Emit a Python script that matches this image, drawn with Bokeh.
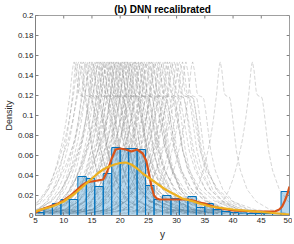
import numpy as np
from bokeh.plotting import figure
from bokeh.models import Range1d, FixedTicker
from bokeh.embed import file_html
from bokeh.resources import INLINE

# ---------------- data ----------------
bin_edges = [5 + 1.5 * i for i in range(31)]
bin_heights = [0.003, 0.008, 0.012, 0.016, 0.016, 0.039, 0.037, 0.029, 0.042, 0.068,
               0.067, 0.067, 0.066, 0.030, 0.016, 0.020, 0.017, 0.016, 0.019, 0.008,
               0.012, 0.006, 0.004, 0.003, 0.0025, 0.002, 0.002, 0.002, 0.002, 0.024]

red_x = [5, 6, 7, 8, 9, 10, 11, 12, 13, 14, 15, 16, 17, 17.7, 18.5, 19.2, 20, 21, 22, 23, 24,
         24.6, 25, 25.5, 26, 26.5, 27, 28, 29, 30, 31, 32, 33, 34, 35, 36, 37, 38, 40, 42, 44,
         46, 47.5, 48.2, 48.7, 49.2, 49.6, 50]
red_y = [0.003, 0.006, 0.008, 0.010, 0.012, 0.015, 0.019, 0.024, 0.029, 0.033, 0.034, 0.035,
         0.036, 0.044, 0.057, 0.066, 0.067, 0.066, 0.064, 0.066, 0.062, 0.055, 0.045, 0.030,
         0.020, 0.017, 0.016, 0.016, 0.016, 0.016, 0.016, 0.016, 0.015, 0.013, 0.012, 0.010,
         0.008, 0.007, 0.005, 0.0045, 0.0042, 0.004, 0.0042, 0.006, 0.009, 0.015, 0.021, 0.029]

yel_x = [5, 6, 7, 8, 9, 10, 11, 12, 13, 14, 15, 16, 17, 18, 19, 20, 21, 22, 23, 24, 25, 26,
         27, 28, 29, 30, 31, 32, 33, 34, 35, 36, 38, 40, 42, 44, 46, 48, 50]
yel_y = [0.004, 0.006, 0.0075, 0.009, 0.0115, 0.014, 0.018, 0.022, 0.027, 0.032, 0.037, 0.042,
         0.046, 0.049, 0.051, 0.0525, 0.053, 0.051, 0.047, 0.042, 0.038, 0.034, 0.030, 0.026,
         0.023, 0.020, 0.017, 0.0155, 0.014, 0.012, 0.0105, 0.009, 0.0075, 0.006, 0.005,
         0.004, 0.003, 0.002, 0.001]

# peak locations and widths of the individual gray predictive densities
curve_peaks = [11.8, 12.2, 12.6, 13.0, 13.4, 13.8, 14.1, 14.5, 14.8, 15.1, 15.4, 15.7, 16.0,
               16.2, 16.5, 16.8, 17.0, 17.2, 17.5, 17.7, 18.0, 18.2, 18.4, 18.7, 18.9, 19.1,
               19.3, 19.6, 19.8, 20.0, 20.2, 20.4, 20.7, 20.9, 21.1, 21.3, 21.6, 21.8, 22.0,
               22.3, 22.5, 22.7, 23.0, 23.2, 23.5, 23.7, 24.0, 24.3, 24.6, 24.9, 25.2, 25.5,
               25.8, 26.1, 26.4, 26.8, 27.1, 27.5, 27.9, 28.3, 28.7, 29.1, 29.5, 30.0, 30.5,
               31.0, 31.6, 32.8, 37.7, 43.4]
curve_widths = [0.9, 0.8, 1.1, 0.9, 1.2, 0.8, 1.0, 0.9, 1.3, 0.8, 1.0, 1.2, 0.9,
                1.3, 0.9, 1.1, 0.8, 1.2, 1.0, 1.3, 0.9, 1.1, 0.9, 1.2, 0.8, 1.0,
                1.2, 0.9, 1.4, 1.0, 0.8, 1.2, 0.9, 1.1, 1.3, 0.9, 1.0, 0.8, 1.3,
                1.0, 1.2, 0.9, 1.4, 0.9, 1.0, 1.2, 0.8, 1.1, 1.0, 1.3, 0.9, 1.2,
                0.8, 1.0, 1.3, 0.9, 1.1, 1.0, 1.2, 0.9, 1.2, 1.0, 1.3, 1.0, 1.1,
                0.9, 0.9, 0.9, 0.8, 0.8]
# shape of one gray density, relative to its peak
shape_dx = [-12, -8.5, -6.5, -5.2, -4.3, -3.4, -2.2, -1.5, -0.8, -0.3, 0, 0.4, 0.9, 1.2, 2.2,
            2.6, 3.6, 4.5, 6, 8, 11, 15]
shape_dy = [0.002, 0.006, 0.014, 0.025, 0.036, 0.05, 0.075, 0.095, 0.12, 0.145, 0.155, 0.145,
            0.123, 0.12, 0.118, 0.105, 0.065, 0.045, 0.026, 0.014, 0.006, 0.002]

x_ticks = [5, 10, 15, 20, 25, 30, 35, 40, 45, 50]
y_ticks = [0, 0.02, 0.04, 0.06, 0.08, 0.1, 0.12, 0.14, 0.16, 0.18, 0.2]
y_tick_labels = ["0", "0.02", "0.04", "0.06", "0.08", "0.1", "0.12", "0.14", "0.16", "0.18", "0.2"]

# ---------------- figure ----------------
FONT = "Liberation Sans"
AX = "#808080"
TXT = "#262626"

p = figure(width=292, height=242, output_backend="svg", toolbar_location=None,
           x_range=Range1d(5, 50), y_range=Range1d(0, 0.2),
           min_border_left=0, min_border_right=3, min_border_top=2, min_border_bottom=2)
p.title.text = "(b) DNN recalibrated"
p.title.align = "center"
p.title.text_font = FONT
p.title.text_font_size = "10px"
p.title.text_font_style = "bold"
p.title.text_color = "#000000"
p.title.standoff = 2
p.title.offset = 0
p.xgrid.visible = False
p.ygrid.visible = False
p.outline_line_color = "#a0a0a0"
p.background_fill_color = "white"

# gray curves
xs, ys = [], []
for c, w in zip(curve_peaks, curve_widths):
    dx = np.array(shape_dx) * w
    gx = np.linspace(c + dx[0], c + dx[-1], 160)
    xs.append(gx)
    ys.append(np.interp(gx, dx + c, shape_dy))
p.multi_line(xs, ys, line_color="#8a8a8a", line_width=0.5, line_alpha=0.7, line_dash="4 2")

# histogram
p.quad(left=bin_edges[:-1], right=bin_edges[1:], bottom=0, top=bin_heights,
       fill_color="#0072BD", fill_alpha=0.28, line_color="#0072BD", line_width=1)

p.line(red_x, red_y, line_color="#D95319", line_width=2.2)
p.line(yel_x, yel_y, line_color="#EDB120", line_width=2.2)

# box ticks on top and right (MATLAB style)
p.segment(x0=x_ticks, x1=x_ticks, y0=[y_ticks[-1]] * len(x_ticks),
          y1=[y_ticks[-1] - 0.003] * len(x_ticks), line_color=AX, line_width=1)
p.segment(x0=[x_ticks[-1]] * len(y_ticks), x1=[x_ticks[-1] - 0.5] * len(y_ticks),
          y0=y_ticks, y1=y_ticks, line_color=AX, line_width=1)

# axes
for ax in (p.xaxis[0], p.yaxis[0]):
    ax.axis_line_color = AX
    ax.major_tick_line_color = AX
    ax.major_tick_in = 3
    ax.major_tick_out = 0
    ax.minor_tick_line_color = None
    ax.major_label_text_font = FONT
    ax.major_label_text_font_size = "8px"
    ax.major_label_text_color = TXT
    ax.axis_label_text_font = FONT
    ax.axis_label_text_font_size = "10px"
    ax.axis_label_text_font_style = "normal"
    ax.axis_label_text_color = TXT
    ax.major_label_standoff = 2
    ax.axis_label_standoff = 3

p.xaxis.ticker = FixedTicker(ticks=x_ticks)
p.yaxis.ticker = FixedTicker(ticks=y_ticks)
p.yaxis.major_label_overrides = {t: l for t, l in zip(y_ticks, y_tick_labels)}
p.xaxis.axis_label = "y"
p.yaxis.axis_label = "Density"
p.yaxis.axis_label_text_font_size = "9px"
p.yaxis.axis_label_standoff = 1

open("out.html", "w").write(file_html(p, INLINE))
